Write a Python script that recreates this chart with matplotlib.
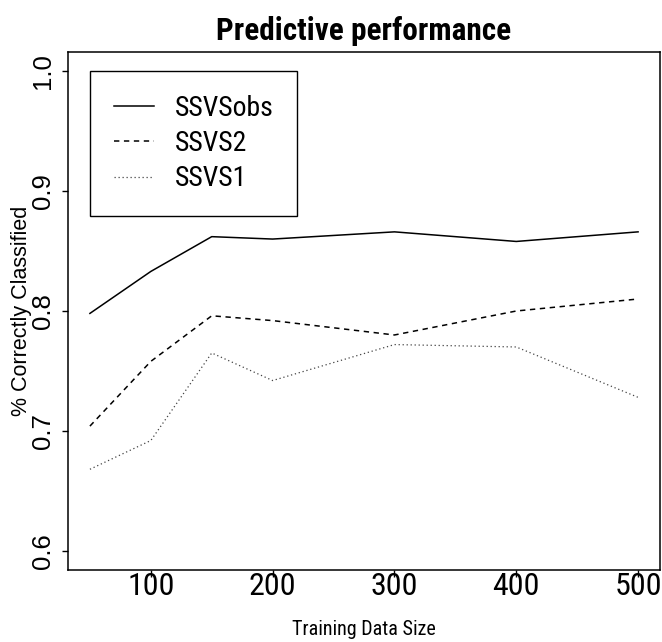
#Plot of predictive performance against training data size

#imports
import matplotlib
matplotlib.use('Agg')
import matplotlib.pyplot as plt

#data
train_size = [50, 100, 150, 200, 300, 400, 500]
ssvs_obs = [0.798, 0.833, 0.862, 0.860, 0.866, 0.858, 0.866]
ssvs2 = [0.704, 0.758, 0.796, 0.792, 0.780, 0.800, 0.810]
ssvs1 = [0.668, 0.692, 0.765, 0.742, 0.772, 0.770, 0.728]

x_ticks = [100, 200, 300, 400, 500]
y_ticks = [0.6, 0.7, 0.8, 0.9, 1.0]
y_tick_labels = ['0.6', '0.7', '0.8', '0.9', '1.0']

narrow = ['Roboto Condensed', 'Liberation Sans', 'DejaVu Sans']
plain = ['Liberation Sans', 'DejaVu Sans']

#Create the plot
fig = plt.figure(figsize=(6.62, 6.42), dpi=100)
ax = fig.add_axes([68/662, 72/642, 592/662, 518/642])

ax.plot(train_size, ssvs_obs, color='black', lw=1.1, label='SSVSobs')
ax.plot(train_size, ssvs2, color='black', lw=1.1, dashes=(3.5, 3), label='SSVS2')
ax.plot(train_size, ssvs1, color='#444444', lw=0.9, dashes=(1, 2.2), label='SSVS1')

#R style axis ranges (4% padding)
ax.set_xlim(32, 518)
ax.set_ylim(0.584, 1.016)

ax.set_xticks(x_ticks)
ax.set_xticklabels([str(v) for v in x_ticks], family=narrow, fontsize=23)
ax.set_yticks(y_ticks)
ax.set_yticklabels(y_tick_labels, family=plain, fontsize=18.5,
                   rotation=90, va='center')
ax.tick_params(axis='x', direction='out', length=5, width=1, pad=-3.5)
ax.tick_params(axis='y', direction='out', length=4.5, width=1, pad=5)
for sp in ax.spines.values():
	sp.set_linewidth(1.1)

#label the axies
fig.text(364/662, 1 - 40/642, 'Predictive performance', family=narrow,
         fontsize=22.5, fontweight='bold', ha='center', va='baseline')
fig.text(364/662, 1 - 635/642, 'Training Data Size', family=narrow,
         fontsize=14.5, ha='center', va='baseline')
fig.text(32/662, 1 - 311/642, '% Correctly Classified', family=plain,
         fontsize=15.5, rotation=90, ha='right', va='center')

leg = ax.legend(loc='upper left', bbox_to_anchor=(50, 1.0),
                bbox_transform=ax.transData, borderaxespad=0,
                prop={'family': narrow, 'size': 20}, handlelength=1.45,
                handletextpad=0.75, borderpad=0.85, labelspacing=0.3,
                fancybox=False, framealpha=1, edgecolor='black')
leg.get_frame().set_linewidth(1.0)

#output the figure
fig.savefig('out.png', dpi=100)
